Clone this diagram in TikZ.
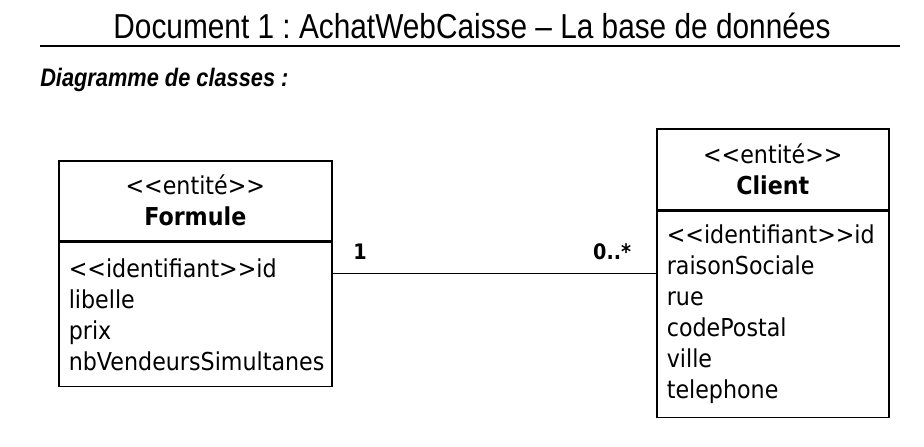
\documentclass[tikz,border=0pt]{standalone}
\usepackage{fontspec}
\usepackage{tikz}
\usetikzlibrary{positioning}
\newfontfamily\titlefont[FakeStretch=0.86]{Liberation Sans}
\newfontfamily\umlfont[FakeStretch=0.9]{DejaVu Sans}
\frenchspacing

\begin{document}
\begin{tikzpicture}
        \useasboundingbox (0,0) rectangle (693pt,-334.5pt);
        % titre et sous-titre
        \node (titre) at (354pt,-19.5pt) {\titlefont\fontsize{26}{30}\selectfont Document 1 : AchatWebCaisse \textendash{} La base de données};
        \draw[line width=2pt] (30pt,-34.5pt) coordinate (rg) -- (675pt,-34.5pt) coordinate (rd);
        \node[anchor=west,inner sep=0pt] (sous) at (30pt,-60pt) {\titlefont\fontsize{19}{22}\selectfont\bfseries\itshape Diagramme de classes :};
        \begin{scope}[every node/.style={draw,line width=1.2pt,rectangle,inner xsep=7.5pt,inner ysep=0pt,
            font=\umlfont\fontsize{18.5}{23.25}\selectfont}]
          \node[anchor=north west,minimum width=204.75pt,minimum height=60pt,align=center] (fhead) at (43.5pt,-120pt)
            {<<entité>>\\\textbf{Formule}};
          \node[below=0pt of fhead,minimum width=204.75pt,minimum height=108pt,text width=189.75pt,align=left] (fattr)
            {<<identifiant>>id\\libelle\\prix\\nbVendeursSimultanes};
          \node[anchor=north west,minimum width=174pt,minimum height=60.75pt,align=center] (chead) at (492pt,-96pt)
            {<<entité>>\\\textbf{Client}};
          \node[below=0pt of chead,minimum width=174pt,minimum height=154.5pt,text width=159pt,align=left] (cattr)
            {<<identifiant>>id\\raisonSociale\\rue\\codePostal\\ville\\telephone};
        \end{scope}
        \path ([yshift=-24pt]fattr.north east) coordinate (assoc);
        \begin{scope}[every edge/.style={draw=black,line width=1.2pt}]
          \path (assoc) edge
            node[pos=0,anchor=south west,xshift=15pt,yshift=10pt,inner sep=0pt,font=\umlfont\fontsize{16}{18}\selectfont\bfseries] (m1) {1}
            node[pos=1,anchor=south east,xshift=-18pt,yshift=10pt,inner sep=0pt,font=\umlfont\fontsize{16}{18}\selectfont\bfseries] (m2) {0..*}
            (assoc -| cattr.west);
        \end{scope}
      \end{tikzpicture}
\end{document}
